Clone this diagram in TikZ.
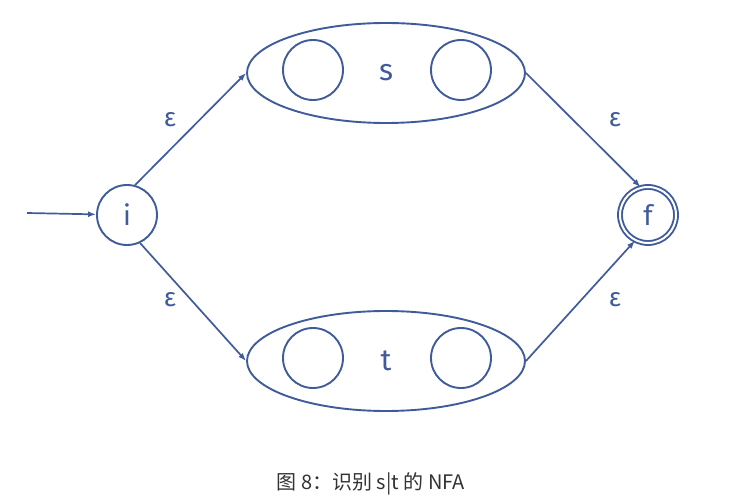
\documentclass[tikz,border=0pt]{standalone}
\usepackage{fontspec}
\setmainfont{Fira Sans}
\newfontfamily\cjk{Noto Sans CJK SC}
\usepackage{xcolor}
\usetikzlibrary{shapes.geometric,arrows.meta}
\definecolor{ink}{HTML}{3F5B9A}

\tikzset{
  state/.style={draw=ink, circle, line width=1.9pt, minimum size=60pt, inner sep=0pt, text=ink, font=\fontsize{28}{30}\selectfont},
  group/.style={draw=ink, ellipse, line width=1.9pt, minimum width=278pt, minimum height=100pt, text=ink, font=\fontsize{30}{32}\selectfont},
  edge/.style={draw=ink, line width=1.7pt, -{Latex[length=8pt,width=6pt]}},
  eps/.style={text=ink, font=\fontsize{26}{28}\selectfont}
}

\begin{document}
\begin{tikzpicture}[x=1pt,y=-1pt]
        \useasboundingbox (0,0) rectangle (752,502);

        % states
        \node[state] (i) at (127,215) {i};
        \node[state, double, double distance=2pt, minimum size=56pt] (f) at (648,215) {f};
        \coordinate (start) at (27,213);

        % s branch
        \node[group] (s) at (386,73) {s};
        \node[state] (s1) at (313,70) {};
        \node[state] (s2) at (461,70) {};

        % t branch
        \node[group] (t) at (386,361) {t};
        \node[state] (t1) at (313,358) {};
        \node[state] (t2) at (461,358) {};

        \draw[edge] (start) -- (i);
        \draw[edge] (i.75) -- (s.west);
        \draw[edge] (i.295) -- (t.west);
        \draw[edge] (s.east) -- (f.105);
        \draw[edge] (t.east) -- (f.243);

        \node[eps] (e1) at (170,120) {ε};
        \node[eps] (e2) at (615,120) {ε};
        \node[eps] (e3) at (170,300) {ε};
        \node[eps] (e4) at (615,300) {ε};

        \node[text=black!80, font=\cjk\fontsize{20}{22}\selectfont] (cap) at (371,484) {图 8：识别 s|t 的 NFA};
    \end{tikzpicture}
\end{document}
